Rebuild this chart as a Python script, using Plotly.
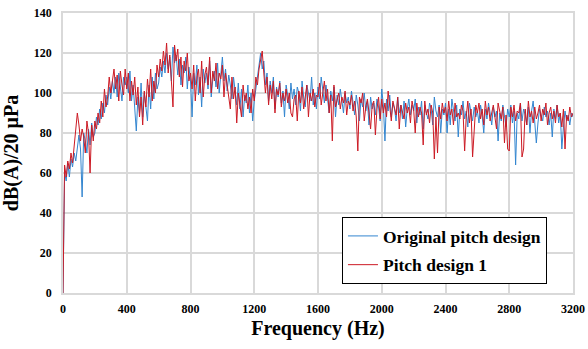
import plotly.graph_objects as go

# Frequency axis (Hz), 10 Hz resolution
freq = list(range(0, 3210, 10))

original_pitch = [
    0, 60, 56, 65, 58, 67, 63, 70, 66, 74, 79, 72, 48, 80, 76, 70, 82, 74, 85, 78,
    80, 88, 84, 92, 87, 95, 90, 99, 94, 103, 97, 106, 100, 108, 98, 110, 103, 96, 108, 104,
    108, 100, 111, 96, 104, 92, 81, 98, 90, 105, 88, 100, 94, 86, 104, 92, 108, 97, 110, 102,
    105, 113, 108, 116, 110, 120, 112, 118, 106, 123, 115, 119, 109, 117, 104, 114, 110, 118, 102, 113,
    106, 88, 110, 104, 114, 99, 108, 93, 112, 105, 110, 102, 116, 98, 107, 111, 103, 115, 100, 108,
    118, 106, 112, 101, 109, 104, 97, 108, 100, 94, 105, 92, 102, 88, 99, 95, 104, 90, 100, 86,
    96, 102, 108, 114, 120, 112, 116, 104, 110, 96, 106, 100, 108, 92, 103, 98, 106, 95, 101, 88,
    104, 99, 92, 105, 97, 102, 94, 103, 100, 91, 106, 98, 93, 104, 99, 96, 108, 94, 100, 92,
    103, 97, 108, 100, 95, 104, 98, 90, 101, 96, 103, 88, 99, 94, 102, 97, 90, 100, 95, 98,
    92, 101, 96, 89, 99, 94, 86, 97, 93, 100, 91, 96, 84, 98, 92, 95, 89, 97, 93, 86,
    102, 94, 76, 97, 91, 99, 88, 95, 92, 86, 98, 90, 94, 87, 96, 83, 92, 97, 89, 94,
    91, 97, 85, 93, 89, 96, 82, 94, 90, 87, 95, 92, 84, 98, 91, 88, 94, 80, 92, 89,
    95, 80, 92, 84, 97, 90, 86, 94, 78, 92, 89, 96, 87, 91, 83, 95, 90, 86, 93, 88,
    91, 85, 94, 89, 80, 92, 87, 95, 90, 84, 93, 88, 91, 76, 90, 86, 94, 89, 83, 92,
    88, 94, 85, 91, 64, 90, 87, 95, 86, 92, 89, 84, 93, 80, 91, 96, 87, 75, 85, 92,
    89, 86, 93, 88, 91, 84, 90, 78, 92, 87, 94, 85, 90, 72, 83, 91, 86, 89, 84, 90,
    88,
]

pitch_design_1 = [
    0, 64, 58, 66, 62, 70, 65, 74, 80, 90, 84, 76, 82, 78, 70, 86, 80, 60, 84, 76,
    86, 82, 90, 85, 96, 88, 102, 93, 98, 108, 100, 105, 112, 102, 109, 96, 111, 104, 99, 112,
    102, 110, 96, 106, 99, 108, 94, 103, 88, 98, 84, 101, 93, 107, 98, 112, 96, 106, 100, 114,
    108, 117, 111, 121, 114, 125, 110, 119, 104, 93, 124, 116, 122, 108, 118, 103, 116, 111, 120, 106,
    110, 102, 114, 96, 108, 112, 100, 116, 98, 109, 113, 104, 118, 100, 111, 106, 115, 102, 110, 107,
    114, 98, 110, 104, 100, 92, 108, 97, 103, 85, 100, 94, 88, 104, 96, 100, 92, 98, 90, 102,
    96, 108, 104, 112, 116, 121, 110, 100, 108, 94, 104, 97, 106, 90, 102, 99, 105, 93, 100, 96,
    102, 95, 100, 90, 88, 97, 99, 86, 101, 95, 103, 92, 98, 104, 88, 100, 96, 102, 93, 99,
    98, 105, 94, 100, 106, 96, 102, 90, 99, 76, 104, 93, 97, 100, 92, 98, 95, 101, 89, 96,
    94, 99, 91, 96, 88, 71, 98, 95, 100, 86, 93, 97, 90, 82, 94, 96, 79, 92, 98, 87,
    97, 90, 95, 88, 101, 92, 86, 96, 93, 89, 98, 82, 94, 91, 87, 95, 90, 93, 85, 96,
    92, 80, 95, 88, 93, 90, 74, 96, 89, 92, 85, 94, 90, 67, 88, 70, 93, 87, 95, 90,
    93, 86, 96, 89, 92, 84, 95, 88, 90, 87, 94, 91, 71, 88, 96, 85, 92, 68, 83, 94,
    90, 95, 87, 92, 84, 96, 89, 93, 86, 91, 94, 88, 82, 95, 90, 87, 93, 75, 89, 72,
    71, 93, 88, 94, 86, 91, 90, 95, 68, 72, 92, 84, 96, 88, 91, 85, 93, 87, 90, 94,
    86, 92, 89, 95, 84, 90, 93, 87, 91, 85, 94, 88, 90, 83, 92, 72, 89, 86, 93, 88,
    90,
]

x_ticks = [0, 400, 800, 1200, 1600, 2000, 2400, 2800, 3200]
y_ticks = [0, 20, 40, 60, 80, 100, 120, 140]

serif = "Liberation Serif, Times New Roman, serif"
grid = "#d9d9d9"

fig = go.Figure()
fig.add_trace(go.Scatter(
    x=freq, y=original_pitch, mode="lines", name="Original pitch design",
    line=dict(color="#3386d0", width=1), legendgroup="a"))
fig.add_trace(go.Scatter(
    x=freq, y=pitch_design_1, mode="lines", name="Pitch design 1",
    line=dict(color="#cc1a24", width=1), legendgroup="b"))

fig.update_layout(
    width=588, height=349,
    margin=dict(l=63, r=15, t=13, b=56, autoexpand=False),
    paper_bgcolor="white", plot_bgcolor="white",
    font=dict(family=serif, color="black"),
    showlegend=True,
    legend=dict(
        x=0.547, y=0.032, xanchor="left", yanchor="bottom",
        bgcolor="white", bordercolor="black", borderwidth=1,
        font=dict(family=serif, size=17.5, color="black", weight="bold"),
        traceorder="grouped", tracegroupgap=3, itemwidth=30,
    ),
    xaxis=dict(
        range=[0, 3200], tickmode="array", tickvals=x_ticks,
        ticktext=[str(v) for v in x_ticks], automargin=False,
        ticklabeloverflow="allow",
        showgrid=True, gridcolor=grid, gridwidth=1.5,
        showline=True, linecolor=grid, linewidth=1.5, mirror=True,
        zeroline=False,
        ticks="outside", ticklen=4, tickcolor="rgba(0,0,0,0)",
        tickfont=dict(family=serif, size=12, color="black", weight="bold"),
        title=dict(text="Frequency (Hz)", standoff=6,
                   font=dict(family=serif, size=20, color="black", weight="bold")),
    ),
    yaxis=dict(
        range=[0, 140], tickmode="array", tickvals=y_ticks,
        ticktext=[str(v) for v in y_ticks], automargin=False,
        ticklabeloverflow="allow",
        showgrid=True, gridcolor=grid, gridwidth=1.5,
        showline=True, linecolor=grid, linewidth=1.5, mirror=True,
        zeroline=False,
        ticks="outside", ticklen=7, tickcolor="rgba(0,0,0,0)",
        tickfont=dict(family=serif, size=12, color="black", weight="bold"),
        title=dict(text="dB(A)/20 μPa", standoff=13,
                   font=dict(family=serif, size=20, color="black", weight="bold")),
    ),
)

# remove the browser's default 8px body margin so the 588x349 figure fills the window
fig.write_html("out.html", config={"displayModeBar": False},
               post_script="document.body.style.margin='0px';document.body.style.overflow='hidden';")
